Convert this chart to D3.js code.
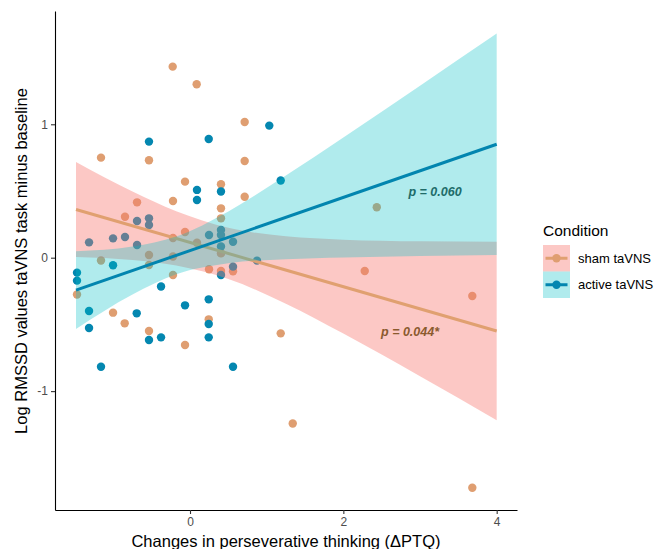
<!DOCTYPE html>
<html>
<head>
<meta charset="utf-8">
<title>RMSSD vs perseverative thinking</title>
<script src="https://d3js.org/d3.v7.min.js"></script>
<style>
  body { margin: 0; background: #fff; }
  svg { font-family: "Liberation Sans", Arial, sans-serif; }
</style>
</head>
<body>
<div id="chart_area"></div>
<script>
// --- data ---
// sham taVNS: change in PTQ (x) and log RMSSD difference (y)
var shamX = [-0.226, 0.087, 0.713, -1.161, -0.535, 0.713, -0.065, 0.404, 0.713, -0.222,
             -0.691, 0.404, -0.848, 0.404, -0.065, -0.222, 0.091, -0.535, 0.404, -0.222,
             -1.161, -0.535, 0.248, 0.404, 0.561, -0.222, -1.474, 2.436, 2.279, 3.682,
             -1.004, 0.244, -0.852, -0.535, -0.065, 1.183, 1.340, 3.682];
var shamY = [1.432, 1.300, 1.017, 0.750, 0.730, 0.725, 0.570, 0.550, 0.457, 0.425,
             0.415, 0.370, 0.307, 0.295, 0.193, 0.148, 0.112, 0.020, 0.033, 0.009,
             -0.021, -0.055, -0.087, -0.100, -0.102, -0.130, -0.276, 0.378, -0.100, -0.287,
             -0.412, -0.462, -0.492, -0.549, -0.654, -0.567, -1.243, -1.724];

// active taVNS
var activeX = [-0.535, 0.244, 1.034, 1.183, 0.091, 0.404, 0.091, -0.535, -0.691, -0.535,
               -1.004, -0.848, -1.317, -0.691, 0.248, 0.404, 0.404, 0.561, 0.404, 0.874,
               -1.004, 0.561, 0.404, -1.474, -1.474, -0.378, 0.244, -0.065, -1.317, -0.695,
               0.244, -1.317, -0.378, -0.535, 0.244, -1.161, 0.561];
var activeY = [0.870, 0.890, 0.990, 0.579, 0.508, 0.496, 0.433, 0.295, 0.275, 0.245,
               0.145, 0.155, 0.115, 0.095, 0.170, 0.208, 0.170, 0.120, 0.084, -0.022,
               -0.057, -0.067, -0.130, -0.112, -0.172, -0.216, -0.312, -0.357, -0.400, -0.417,
               -0.497, -0.527, -0.597, -0.617, -0.597, -0.817, -0.817];

// fitted lines (ends) and confidence bands sampled along x
var fitX = [-1.487, 4];
var shamFit = [0.361, -0.549];
var activeFit = [-0.243, 0.85];

var bandX = [-1.487, -0.75, -0.18, 0.5, 1.25, 2, 3, 4];
var shamLow = [0.005, -0.018, -0.059, -0.160, -0.345, -0.569, -0.889, -1.218];
var shamHigh = [0.717, 0.496, 0.348, 0.224, 0.160, 0.135, 0.123, 0.120];
var activeLow = [-0.535, -0.276, -0.124, -0.041, -0.011, 0.002, 0.013, 0.020];
var activeHigh = [0.049, 0.084, 0.159, 0.347, 0.616, 0.901, 1.289, 1.680];

var xTicks = [0, 2, 4];
var yTicks = [-1, 0, 1];

var groups = ["sham taVNS", "active taVNS"];
var pLabels = ["p = 0.060", "p = 0.044*"];
var pX = [3.196, 2.87];
var pY = [0.495, -0.555];

// --- colours ---
var pointColor = ["#DF9E71", "#0487B0"];
var lineColor = ["#E0A070", "#0285AF"];
var bandColor = ["#F8766D", "#00BFC4"];
var bandAlpha = [0.4, 0.31];
var labelColor = ["#206B69", "#8A5A2E"];

var width = 659, height = 549;
var svg = d3.select("#chart_area")
  .append("svg")
    .attr("width", width)
    .attr("height", height);

var x = d3.scaleLinear().domain([-1.761, 4.265]).range([55, 517]);
var y = d3.scaleLinear().domain([-1.891, 1.849]).range([510, 11]);

// points first, bands and lines are drawn over them
var pts = [];
shamX.forEach(function(v, i) { pts.push({x: v, y: shamY[i], g: 0}); });
activeX.forEach(function(v, i) { pts.push({x: v, y: activeY[i], g: 1}); });

svg.append("g")
  .selectAll("circle")
  .data(pts)
  .enter().append("circle")
    .attr("cx", function(d) { return x(d.x); })
    .attr("cy", function(d) { return y(d.y); })
    .attr("r", 4.2)
    .attr("fill", function(d) { return pointColor[d.g]; });

var area = d3.area()
  .x(function(d) { return x(d.x); })
  .y0(function(d) { return y(d.lo); })
  .y1(function(d) { return y(d.hi); })
  .curve(d3.curveMonotoneX);

var line = d3.line()
  .x(function(d) { return x(d.x); })
  .y(function(d) { return y(d.y); });

var bands = [
  bandX.map(function(v, i) { return {x: v, lo: shamLow[i], hi: shamHigh[i]}; }),
  bandX.map(function(v, i) { return {x: v, lo: activeLow[i], hi: activeHigh[i]}; })
];
var fits = [
  fitX.map(function(v, i) { return {x: v, y: shamFit[i]}; }),
  fitX.map(function(v, i) { return {x: v, y: activeFit[i]}; })
];

// ribbon then line, per group (sham first)
[0, 1].forEach(function(g) {
  svg.append("path")
    .attr("d", area(bands[g]))
    .attr("fill", bandColor[g])
    .attr("fill-opacity", bandAlpha[g]);
  svg.append("path")
    .attr("d", line(fits[g]))
    .attr("fill", "none")
    .attr("stroke", lineColor[g])
    .attr("stroke-width", 3);
});

// p value labels
svg.append("g")
  .selectAll("text")
  .data(pLabels)
  .enter().append("text")
    .attr("x", function(d, i) { return x(pX[i]); })
    .attr("y", function(d, i) { return y(pY[i]); })
    .attr("dy", "0.35em")
    .attr("text-anchor", "middle")
    .style("font-size", "12.5px")
    .style("font-weight", "bold")
    .style("font-style", "italic")
    .attr("fill", function(d, i) { return labelColor[i]; })
    .text(function(d) { return d; });

// axes
var tickFmt = function(d) { return d < 0 ? "-" + Math.abs(d) : String(d); };
var xAxis = svg.append("g")
  .attr("transform", "translate(0,510)")
  .call(d3.axisBottom(x).tickValues(xTicks).tickSize(4).tickSizeOuter(0).tickPadding(3)
    .tickFormat(tickFmt));
var yAxis = svg.append("g")
  .attr("transform", "translate(55,0)")
  .call(d3.axisLeft(y).tickValues(yTicks).tickSize(4).tickSizeOuter(0).tickPadding(3)
    .tickFormat(tickFmt));

[xAxis, yAxis].forEach(function(a) {
  a.select(".domain").attr("stroke", "#000").attr("stroke-width", 1.1);
  a.selectAll(".tick line").attr("stroke", "#333").attr("stroke-width", 1.1);
  a.selectAll(".tick text").attr("fill", "#4D4D4D").style("font-size", "12px")
    .style("font-family", "Liberation Sans, Arial, sans-serif");
});

// axis titles
svg.append("text")
  .attr("x", 286)
  .attr("y", 547)
  .attr("text-anchor", "middle")
  .style("font-size", "16.5px")
  .text("Changes in perseverative thinking (\u0394PTQ)");

svg.append("text")
  .attr("transform", "translate(27,261) rotate(-90)")
  .attr("text-anchor", "middle")
  .style("font-size", "16.5px")
  .text("Log RMSSD values taVNS task minus baseline");

// legend
var legend = svg.append("g").attr("transform", "translate(543,0)");
legend.append("text")
  .attr("x", 0)
  .attr("y", 236)
  .style("font-size", "15.5px")
  .text("Condition");

groups.forEach(function(name, g) {
  var top = 245 + g * 26.5;
  legend.append("rect")
    .attr("x", 0).attr("y", top)
    .attr("width", 27).attr("height", 26.5)
    .attr("fill", bandColor[g])
    .attr("fill-opacity", bandAlpha[g]);
  legend.append("line")
    .attr("x1", 2.5).attr("x2", 24.5)
    .attr("y1", top + 13.25).attr("y2", top + 13.25)
    .attr("stroke", lineColor[g])
    .attr("stroke-width", 3);
  legend.append("circle")
    .attr("cx", 13.5).attr("cy", top + 13.25)
    .attr("r", 4.2)
    .attr("fill", pointColor[g]);
  legend.append("text")
    .attr("x", 35)
    .attr("y", top + 13.25)
    .attr("dy", "0.35em")
    .style("font-size", "13px")
    .text(name);
});
</script>
</body>
</html>
